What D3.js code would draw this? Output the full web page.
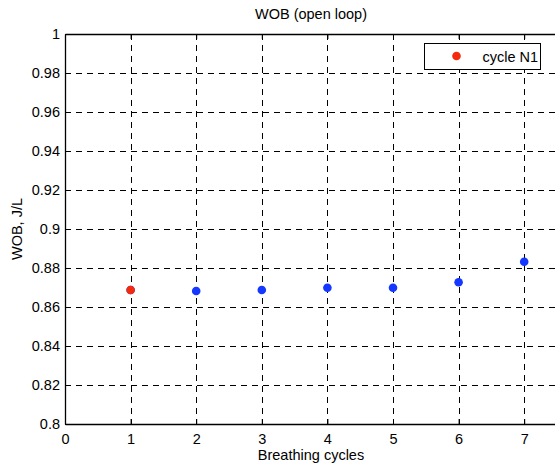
<!DOCTYPE html>
<html>
<head>
<meta charset="utf-8">
<script src="https://cdn.jsdelivr.net/npm/d3@7"></script>
<style>
  body { margin: 0; background: #fff; }
  svg text { font-family: "Liberation Sans", Arial, sans-serif; fill: #000; }
</style>
</head>
<body>
<div id="chart"></div>
<script>
// data
var cycles = [1, 2, 3, 4, 5, 6, 7]
var wob = [0.8687, 0.8682, 0.8687, 0.8699, 0.8699, 0.8727, 0.8832]
var highlighted = [1]        // cycle N1 drawn in red on top
var xTicks = [0, 1, 2, 3, 4, 5, 6, 7]
var yTicks = [0.8, 0.82, 0.84, 0.86, 0.88, 0.9, 0.92, 0.94, 0.96, 0.98, 1]
var legendLabel = 'cycle N1'

var svgWidth = 555,
    svgHeight = 464,
    fontSize = '14.5px'
var margin = { top: 34, left: 65 }
var width = 492, height = 390

var svg = d3.select('#chart').append('svg')
    .attr('width', svgWidth)
    .attr('height', svgHeight)

var g = svg.append('g')
    .attr('transform', 'translate(' + margin.left + ',' + margin.top + ')')

var x = d3.scaleLinear().domain([0, 7.5]).range([0, width])
var y = d3.scaleLinear().domain([0.8, 1]).range([height, 0])

// grid, dashed black
g.append('g').selectAll('line.vx')
    .data(xTicks.filter(d => d > 0))
    .join('line')
    .attr('x1', d => Math.round(x(d)) + 0.5).attr('x2', d => Math.round(x(d)) + 0.5)
    .attr('y1', 0).attr('y2', height)
    .attr('stroke', '#000').attr('stroke-width', 1)
    .attr('stroke-dasharray', '6,5')

g.append('g').selectAll('line.hy')
    .data(yTicks.filter(d => d > 0.8 && d < 1))
    .join('line')
    .attr('x1', 0).attr('x2', width)
    .attr('y1', d => Math.round(y(d)) + 0.5).attr('y2', d => Math.round(y(d)) + 0.5)
    .attr('stroke', '#000').attr('stroke-width', 1)
    .attr('stroke-dasharray', '6,5')

// axes, ticks inside like matlab
var xAxis = g.append('g')
    .attr('transform', 'translate(0,' + height + ')')
    .call(d3.axisBottom(x).tickValues(xTicks).tickSizeInner(-5).tickSizeOuter(0).tickPadding(10).tickFormat(d3.format('d')))
var xTop = g.append('g')
    .call(d3.axisTop(x).tickValues(xTicks).tickSizeInner(-5).tickSizeOuter(0).tickFormat(''))
var yAxis = g.append('g')
    .call(d3.axisLeft(y).tickValues(yTicks).tickSizeInner(-5).tickSizeOuter(0).tickPadding(5).tickFormat(d => d3.format('')(+d.toFixed(2))))

;[xAxis, xTop, yAxis].forEach(a => {
    a.select('.domain').attr('stroke', '#000').attr('stroke-width', 1.3)
    a.selectAll('.tick line').attr('stroke', '#000')
    a.selectAll('text').style('font-size', fontSize).attr('fill', '#000')
        .style('font-family', '"Liberation Sans", Arial, sans-serif')
})

// points
g.append('g').selectAll('circle')
    .data(cycles.map((c, i) => ({ c: c, v: wob[i] })))
    .join('circle')
    .attr('cx', d => x(d.c))
    .attr('cy', d => y(d.v))
    .attr('r', 4.3)
    .attr('fill', '#1438ff')

g.append('g').selectAll('circle')
    .data(highlighted.map(c => ({ c: c, v: wob[cycles.indexOf(c)] })))
    .join('circle')
    .attr('cx', d => x(d.c))
    .attr('cy', d => y(d.v))
    .attr('r', 4.3)
    .attr('fill', '#f52a0c')

// legend
var leg = svg.append('g').attr('transform', 'translate(424.5,43.5)')
leg.append('rect')
    .attr('width', 116).attr('height', 26)
    .attr('fill', '#fff').attr('stroke', '#000').attr('stroke-width', 1)
leg.append('circle')
    .attr('cx', 32).attr('cy', 12.5).attr('r', 4.3)
    .attr('fill', '#f52a0c')
leg.append('text')
    .attr('x', 58).attr('y', 18)
    .style('font-size', fontSize)
    .text(legendLabel)

// title and labels
svg.append('text')
    .attr('x', margin.left + width / 2).attr('y', 19)
    .attr('text-anchor', 'middle')
    .style('font-size', fontSize)
    .text('WOB (open loop)')

svg.append('text')
    .attr('x', margin.left + width / 2).attr('y', 460)
    .attr('text-anchor', 'middle')
    .style('font-size', fontSize)
    .text('Breathing cycles')

svg.append('text')
    .attr('transform', 'translate(22,' + (margin.top + height / 2) + ') rotate(-90)')
    .attr('text-anchor', 'middle')
    .style('font-size', fontSize)
    .text('WOB, J/L')
</script>
</body>
</html>
